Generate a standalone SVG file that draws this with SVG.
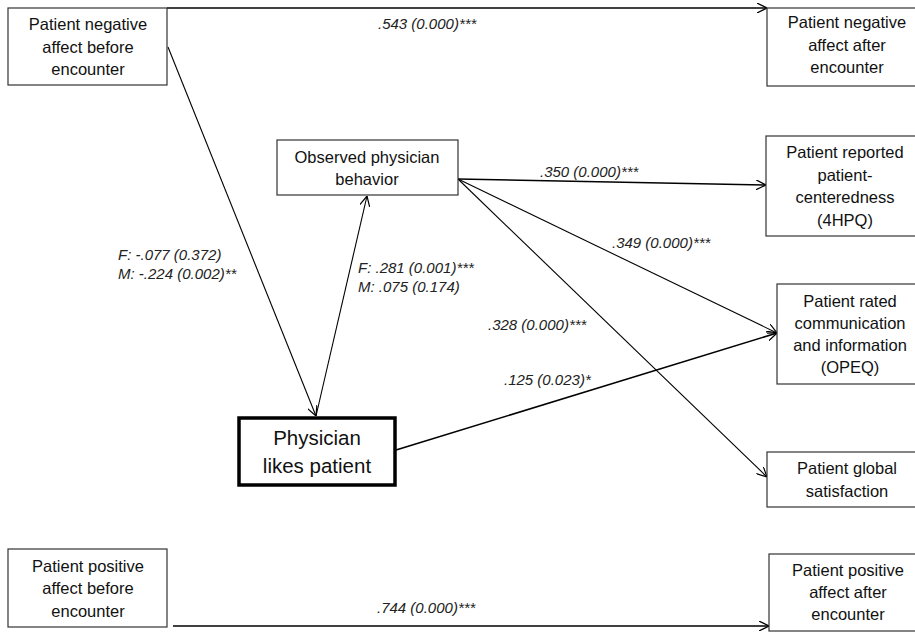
<svg xmlns="http://www.w3.org/2000/svg" width="915" height="635" viewBox="0 0 915 635">
<defs>
<style>
.box{fill:#fff;stroke:#333;stroke-width:1.2}
.bold{fill:#fff;stroke:#000;stroke-width:3.5}
.t{font-family:"Liberation Sans",Arial,sans-serif;font-size:16.5px;fill:#111;text-anchor:middle}
.big{font-size:20.5px}
.lab{font-family:"Liberation Sans",Arial,sans-serif;font-size:15px;font-style:italic;fill:#222}
.c{fill:none;stroke:#000;stroke-width:1.1;marker-end:url(#arr)}
.c2{fill:none;stroke:#000;stroke-width:1.6;marker-end:url(#arr)}
</style>
<marker id="arr" viewBox="0 0 10 10" refX="10" refY="5" markerWidth="10" markerHeight="10" markerUnits="userSpaceOnUse" orient="auto">
<path d="M0,0 L10,5 L0,10" fill="none" stroke="#000" stroke-width="1.2"/>
</marker>
</defs>
<rect width="915" height="635" fill="#fff"/>

<g id="connectors">
<line class="c2" x1="167" y1="8" x2="767" y2="8"/>
<line class="c" x1="168" y1="47" x2="316" y2="416"/>
<line class="c" x1="316" y1="416" x2="367" y2="196"/>
<line class="c2" x1="458" y1="179" x2="766" y2="185"/>
<line class="c" x1="458" y1="179" x2="777" y2="333"/>
<line class="c" x1="458" y1="179" x2="767" y2="477"/>
<line class="c2" x1="396" y1="450" x2="777" y2="333"/>
<line class="c2" x1="173" y1="626" x2="769" y2="626"/>
<text class="lab" x="378" y="29">.543 (0.000)***</text>
<text class="lab" x="540" y="177">.350 (0.000)***</text>
<text class="lab" x="612" y="248">.349 (0.000)***</text>
<text class="lab" x="118" y="260">F: -.077 (0.372)</text>
<text class="lab" x="118" y="279">M: -.224 (0.002)**</text>
<text class="lab" x="358" y="273">F: .281 (0.001)***</text>
<text class="lab" x="358" y="292">M: .075 (0.174)</text>
<text class="lab" x="488" y="330">.328 (0.000)***</text>
<text class="lab" x="504" y="385">.125 (0.023)*</text>
<text class="lab" x="377" y="613">.744 (0.000)***</text>
</g>

<g id="neg-before">
<rect class="box" x="8" y="8" width="159" height="77"/>
<text class="t" x="88" y="30">Patient negative</text>
<text class="t" x="88" y="53">affect before</text>
<text class="t" x="88" y="75">encounter</text>
</g>

<g id="neg-after">
<rect class="box" x="767" y="8" width="160" height="78"/>
<text class="t" x="847" y="28">Patient negative</text>
<text class="t" x="847" y="51">affect after</text>
<text class="t" x="847" y="73">encounter</text>
</g>

<g id="observed">
<rect class="box" x="277" y="140" width="181" height="55"/>
<text class="t" x="367" y="163">Observed physician</text>
<text class="t" x="367" y="185">behavior</text>
</g>

<g id="hpq">
<rect class="box" x="766" y="136" width="160" height="100"/>
<text class="t" x="845" y="158">Patient reported</text>
<text class="t" x="845" y="181">patient-</text>
<text class="t" x="845" y="203">centeredness</text>
<text class="t" x="845" y="226">(4HPQ)</text>
</g>

<g id="opeq">
<rect class="box" x="777" y="284" width="150" height="100"/>
<text class="t" x="850" y="307">Patient rated</text>
<text class="t" x="850" y="329">communication</text>
<text class="t" x="850" y="351">and information</text>
<text class="t" x="850" y="373">(OPEQ)</text>
</g>

<g id="physician">
<rect class="bold" x="239" y="418" width="156" height="67"/>
<text class="t big" x="317" y="445">Physician</text>
<text class="t big" x="317" y="473">likes patient</text>
</g>

<g id="global">
<rect class="box" x="767" y="452" width="160" height="55"/>
<text class="t" x="847" y="474">Patient global</text>
<text class="t" x="847" y="497">satisfaction</text>
</g>

<g id="pos-before">
<rect class="box" x="8" y="549" width="159" height="78"/>
<text class="t" x="88" y="572">Patient positive</text>
<text class="t" x="88" y="594">affect before</text>
<text class="t" x="88" y="617">encounter</text>
</g>

<g id="pos-after">
<rect class="box" x="769" y="554" width="160" height="77"/>
<text class="t" x="848" y="576">Patient positive</text>
<text class="t" x="848" y="598">affect after</text>
<text class="t" x="848" y="620">encounter</text>
</g>
</svg>
